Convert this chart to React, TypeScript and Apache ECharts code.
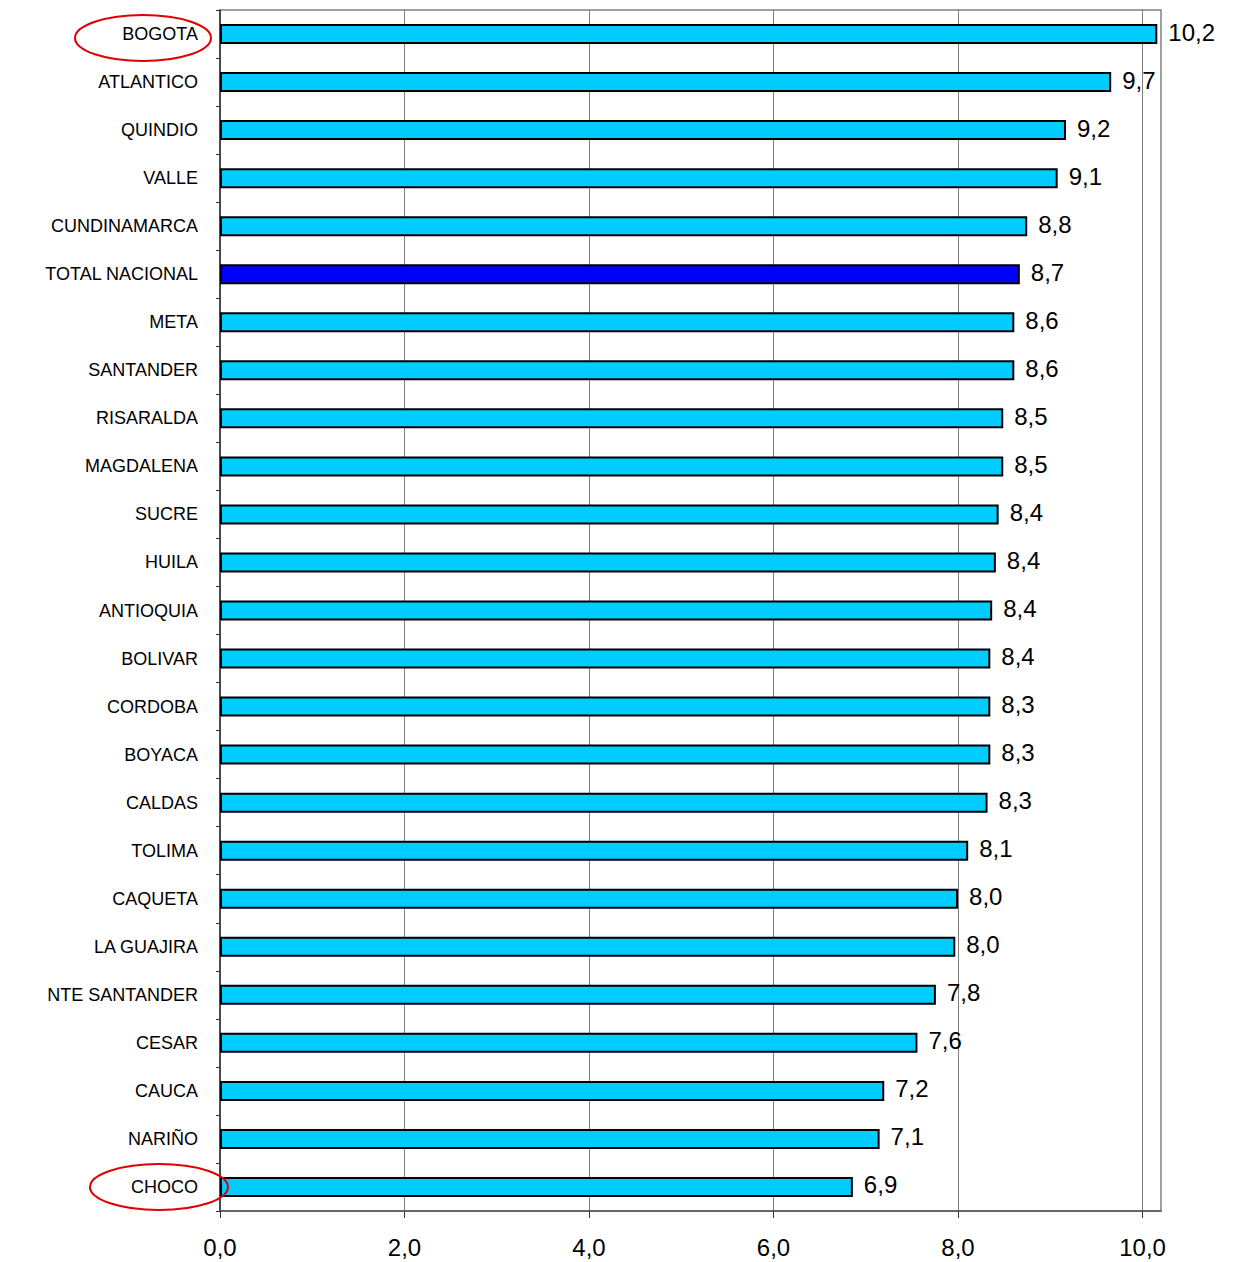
import React, { useEffect, useRef } from "react";
import * as echarts from "echarts";

const categories = [
  "BOGOTA", "ATLANTICO", "QUINDIO", "VALLE", "CUNDINAMARCA", "TOTAL NACIONAL",
  "META", "SANTANDER", "RISARALDA", "MAGDALENA", "SUCRE", "HUILA", "ANTIOQUIA",
  "BOLIVAR", "CORDOBA", "BOYACA", "CALDAS", "TOLIMA", "CAQUETA", "LA GUAJIRA",
  "NTE SANTANDER", "CESAR", "CAUCA", "NARIÑO", "CHOCO",
];
const values = [
  10.16, 9.66, 9.17, 9.08, 8.75, 8.67, 8.61, 8.61, 8.49, 8.49, 8.44, 8.41, 8.37,
  8.35, 8.35, 8.35, 8.32, 8.11, 8.0, 7.97, 7.76, 7.56, 7.2, 7.15, 6.86,
];
const valueLabels = [
  "10,2", "9,7", "9,2", "9,1", "8,8", "8,7", "8,6", "8,6", "8,5", "8,5", "8,4",
  "8,4", "8,4", "8,4", "8,3", "8,3", "8,3", "8,1", "8,0", "8,0", "7,8", "7,6",
  "7,2", "7,1", "6,9",
];
const xTicks = [0, 2, 4, 6, 8, 10];
const xTickLabels = ["0,0", "2,0", "4,0", "6,0", "8,0", "10,0"];
const highlighted = ["TOTAL NACIONAL"];

const FONT = "'Liberation Sans', Arial, sans-serif";

export default function App() {
  const ref = useRef<HTMLDivElement>(null);
  useEffect(() => {
    if (!ref.current) return;
    const chart = echarts.init(ref.current, null, { renderer: "svg" });
    chart.setOption({
      animation: false,
      backgroundColor: "#ffffff",
      grid: {
        left: 220,
        top: 10,
        right: 72,
        bottom: 51,
        show: true,
        borderColor: "#808080",
        borderWidth: 1.5,
        backgroundColor: "transparent",
      },
      xAxis: {
        type: "value",
        min: 0,
        max: 10.2,
        interval: 2,
        axisLine: { show: true, lineStyle: { color: "#555555", width: 1.5 } },
        axisTick: {
          show: true,
          length: 7,
          lineStyle: { color: "#333333", width: 1 },
          customValues: xTicks,
        },
        axisLabel: {
          customValues: xTicks,
          margin: 24,
          fontSize: 24,
          fontFamily: FONT,
          color: "#000000",
          formatter: (v: number) => {
            const i = xTicks.indexOf(Math.round(v * 100) / 100);
            return i >= 0 ? xTickLabels[i] : "";
          },
        },
        splitLine: { show: true, lineStyle: { color: "#808080", width: 1 } },
      },
      yAxis: {
        type: "category",
        inverse: true,
        data: categories,
        axisLine: { show: true, lineStyle: { color: "#333333", width: 1.5 } },
        axisTick: { show: true, length: 4, lineStyle: { color: "#333333" } },
        axisLabel: {
          margin: 22,
          fontSize: 18,
          fontFamily: FONT,
          color: "#000000",
        },
        splitLine: { show: false },
      },
      series: [
        {
          type: "bar",
          barWidth: 20,
          data: values.map((v, i) => ({
            value: v,
            itemStyle: {
              color: highlighted.includes(categories[i]) ? "#0000FF" : "#00CCFF",
              borderColor: "#000000",
              borderWidth: 2,
            },
          })),
          label: {
            show: true,
            position: "right",
            distance: 11,
            fontSize: 24,
            fontFamily: FONT,
            color: "#000000",
            offset: [0, -2],
            formatter: (p: any) => valueLabels[p.dataIndex],
          },
        },
      ],
      graphic: [
        {
          type: "ellipse",
          shape: { cx: 143, cy: 38, rx: 68, ry: 23 },
          style: { fill: "none", stroke: "#e00000", lineWidth: 2 },
          z: 100,
        },
        {
          type: "ellipse",
          shape: { cx: 159, cy: 1187, rx: 69, ry: 23 },
          style: { fill: "none", stroke: "#e00000", lineWidth: 2 },
          z: 100,
        },
      ],
    });
    return () => chart.dispose();
  }, []);
  return (
    <div
      ref={ref}
      style={{ position: "absolute", left: 0, top: 0, width: 1233, height: 1262 }}
    />
  );
}
